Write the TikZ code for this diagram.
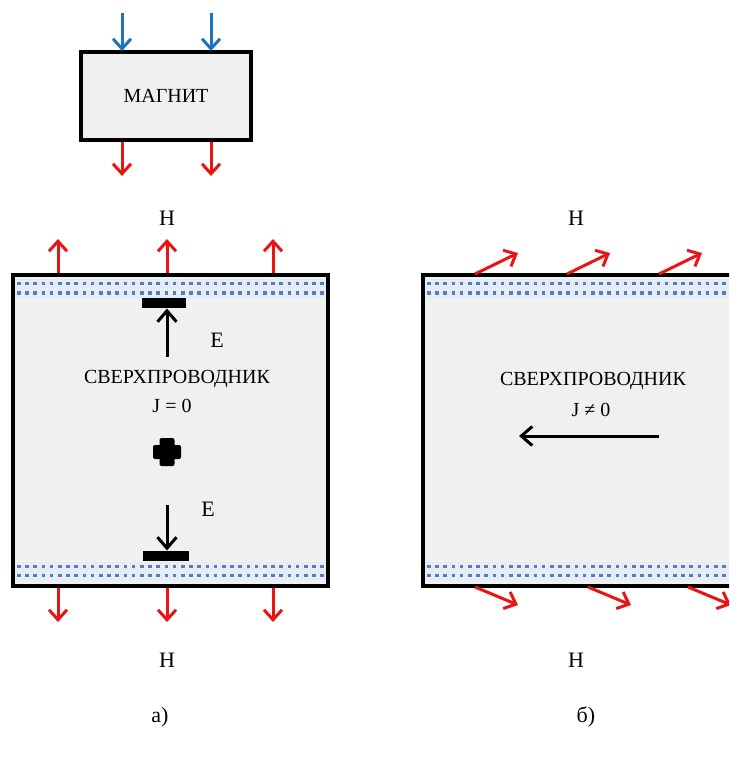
\documentclass[tikz,border=0pt]{standalone}
\usepackage{fontspec}
\setmainfont{Liberation Serif}
\usetikzlibrary{arrows.meta}
\definecolor{arrred}{RGB}{235,20,20}
\definecolor{arrblue}{RGB}{30,115,190}
\definecolor{dotblue}{RGB}{90,125,185}
\definecolor{boxfill}{RGB}{240,240,240}
\definecolor{bandfill}{RGB}{228,236,246}
\tikzset{
  txt/.style={font=\fontsize{20}{24}\selectfont, inner sep=0pt},
  big/.style={font=\fontsize{22}{26}\selectfont, inner sep=0pt},
  box/.style={draw=black, line width=3.4pt, fill=boxfill, inner sep=0pt},
  redarr/.style={draw=arrred, line width=3pt, -{Straight Barb[length=10pt,width=18pt,line width=3pt]}},
  bluearr/.style={draw=arrblue, line width=3pt, -{Straight Barb[length=10pt,width=18pt,line width=3pt]}},
  blkarr/.style={draw=black, line width=3pt, -{Straight Barb[length=11pt,width=19pt,line width=3pt]}},
  dotrow/.style={draw=dotblue, line width=3.6pt, dash pattern=on 3.6pt off 4.6pt},
  band/.style={fill=bandfill, draw=none},
  bar/.style={fill=black, draw=none}
}
\begin{document}
\begin{tikzpicture}[x=1pt,y=-1pt]
\useasboundingbox (0,0) rectangle (729,758);
\clip (0,0) rectangle (729,758);
\fill[white] (0,0) rectangle (729,758);

% magnet
\node[box, txt, minimum width=170pt, minimum height=88pt] (mag) at (166,96) {МАГНИТ};
\coordinate (b1s) at (122,13); \coordinate (b1e) at (122,51);
\coordinate (b2s) at (211,13); \coordinate (b2e) at (211,51);
\draw[bluearr] (b1s) -- (b1e);
\draw[bluearr] (b2s) -- (b2e);
\coordinate (r1s) at (122,142); \coordinate (r1e) at (122,176);
\coordinate (r2s) at (211,142); \coordinate (r2e) at (211,176);
\draw[redarr] (r1s) -- (r1e);
\draw[redarr] (r2s) -- (r2e);

% left superconductor
\draw[box] (13,275) rectangle (328,586);
\fill[band] (15,279) rectangle (326,297.5);
\fill[band] (15,562) rectangle (326,580);
\draw[dotrow] (17,283.5) -- (326,283.5);
\draw[dotrow] (17,293) -- (326,293);
\draw[dotrow] (17,566.5) -- (326,566.5);
\draw[dotrow] (17,575.5) -- (326,575.5);

\foreach \x/\n in {58/a,167/b,273/c}{
  \coordinate (lt\n s) at (\x,273); \coordinate (lt\n e) at (\x,239);
  \draw[redarr] (lt\n s) -- (lt\n e);
  \coordinate (lb\n s) at (\x,588); \coordinate (lb\n e) at (\x,622);
  \draw[redarr] (lb\n s) -- (lb\n e);
}

\fill[bar] (142,298) rectangle (186,308);
\fill[bar] (143,551) rectangle (189,561);
\coordinate (ua) at (167,357);
\coordinate (ub) at (167,308.5);
\draw[blkarr] (ua) -- (ub);
\coordinate (da) at (167,505);
\coordinate (db) at (167,550.5);
\draw[blkarr] (da) -- (db);
\node[big] (E1) at (217,340) {E};
\node[big] (E2) at (208,509) {E};

% cross
\fill[bar, rounded corners=2pt] (153,445) rectangle (181,459);
\fill[bar, rounded corners=2pt] (159.5,438) rectangle (174.5,466);

\node[txt] (sc1) at (177,379) {СВЕРХПРОВОДНИК};
\node[txt] (j1) at (172,406) {J = 0};

\node[big] (H1) at (167,218) {H};
\node[big] (H2) at (167,660) {H};
\node[big] (la) at (160,717) {а)};

% right superconductor
\draw[box] (423,275) rectangle (738,586);
\fill[band] (425,279) rectangle (729,297.5);
\fill[band] (425,562) rectangle (729,580);
\draw[dotrow] (427,283.5) -- (736,283.5);
\draw[dotrow] (427,293) -- (736,293);
\draw[dotrow] (427,566.5) -- (736,566.5);
\draw[dotrow] (427,575.5) -- (736,575.5);

\foreach \x in {475,567,659}{
  \draw[redarr] (\x,274) -- ++(43,-21);
}
\foreach \x in {475,588,688}{
  \draw[redarr] (\x,587) -- ++(43,18);
}

\node[txt] (sc2) at (593,381) {СВЕРХПРОВОДНИК};
\node[txt] (j2) at (591,410) {J ≠ 0};
\coordinate (cs) at (659,436); \coordinate (ce) at (519,436);
\draw[blkarr] (cs) -- (ce);

\node[big] (H3) at (576,218) {H};
\node[big] (H4) at (576,660) {H};
\node[big] (lb) at (586,717) {б)};
\end{tikzpicture}
\end{document}
